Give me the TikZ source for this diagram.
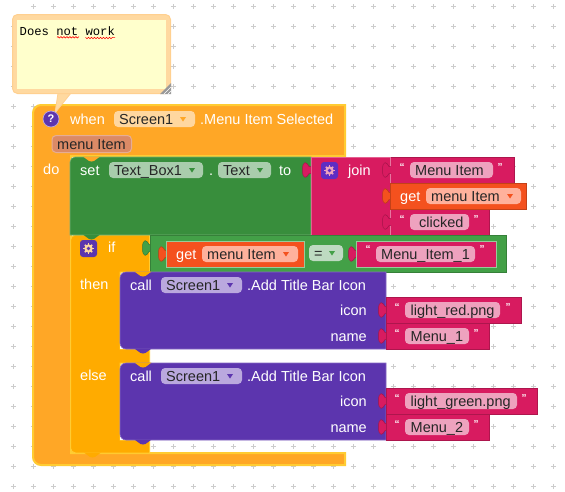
\documentclass[tikz,border=0pt]{standalone}
\usepackage{fontspec}
\setmainfont{Liberation Sans}
\setmonofont{Liberation Mono}
\usetikzlibrary{decorations.pathmorphing}

\definecolor{eventorange}{HTML}{FFA726}
\definecolor{edgeyellow}{HTML}{FFCC33}
\definecolor{ifamber}{HTML}{FFAB00}
\definecolor{setgreen}{HTML}{388E3C}
\definecolor{cmpgreen}{HTML}{43A047}
\definecolor{textpink}{HTML}{D81B60}
\definecolor{getred}{HTML}{F4511E}
\definecolor{callpurple}{HTML}{5C35AE}
\definecolor{iconviolet}{HTML}{5E2DC4}
\definecolor{fldorange}{HTML}{FFD79F}
\definecolor{fldparam}{HTML}{DB8A66}
\definecolor{fldgreen}{HTML}{A9CDAC}
\definecolor{fldpink}{HTML}{EEA2BE}
\definecolor{fldred}{HTML}{FFB19C}
\definecolor{fldpurple}{HTML}{BAA8DE}
\definecolor{notebody}{HTML}{FFFFCC}
\definecolor{noteedge}{HTML}{FFD9A0}
\definecolor{gridgray}{HTML}{CCCCCC}

\tikzset{
  blocklbl/.style={anchor=base west, inner sep=0pt, text=white, font=\fontsize{14.5}{16}\selectfont},
  blockrgt/.style={blocklbl, anchor=base east},
  fieldlbl/.style={anchor=base west, inner sep=0pt, text=black!85, font=\fontsize{14.5}{16}\selectfont},
  quotelbl/.style={inner sep=0pt, text=white, font=\fontsize{10}{10}\bfseries\selectfont},
  fieldbox/.style={rounded corners=4pt},
  gridmark/.style={gridgray, line width=0.8pt},
}

% value socket tab, sticks out to the left of x
\newcommand{\sockettab}[3]{%
  \filldraw[fill=#3, draw=#3!75!black, line width=0.5pt] (#1,#2-3.5) -- (#1-2,#2-3.5) .. controls (#1-4,#2-8) and (#1-8.5,#2-10.5) .. (#1-8.5,#2)
    .. controls (#1-8.5,#2+10.5) and (#1-4,#2+8) .. (#1-2,#2+3.5) -- (#1,#2+3.5);}
% statement notch or bump, hangs below y
\newcommand{\stacknotch}[3]{%
  \fill[#3] (#1-8.5,#2-0.5) .. controls (#1-5,#2+1) and (#1-4,#2+4.5) .. (#1,#2+4.5)
    .. controls (#1+4,#2+4.5) and (#1+5,#2+1) .. (#1+8.5,#2-0.5) -- cycle;}
% small drop-down triangle
\newcommand{\droparrow}[3]{%
  \fill[#3] (#1-3,#2-2) -- (#1+3,#2-2) -- (#1,#2+2.5) -- cycle;}
% mutator gear
\newcommand{\geartile}[4]{%
  \fill[#3, rounded corners=3pt] (#1-8.5,#2-8.5) rectangle (#1+8.5,#2+8.5);
  \foreach \ang in {0,45,...,315}
    \draw[#4, line width=1.6pt] (#1,#2) -- ++(\ang:5.2);
  \fill[#4] (#1,#2) circle (4.2);
  \fill[#3] (#1,#2) circle (1.9);}

\begin{document}
\begin{tikzpicture}[x=1pt,y=-1pt]
  \useasboundingbox (0,0) rectangle (565,491);
  \fill[white] (0,0) rectangle (565,491);

  % workspace grid
  \foreach \gx in {0,...,27}
    \foreach \gy in {0,...,24} {
      \ifnum\numexpr\gx+\gy\relax>0
        \draw[gridmark] (13.3+20*\gx,6.7+20*\gy) +(-2.5,0) -- +(2.5,0) +(0,-2.5) -- +(0,2.5);
      \fi
    }

  % event block, outer shell
  \filldraw[fill=eventorange, draw=edgeyellow, line width=2pt]
    [rounded corners=8pt] (33,465) -- (33,105)
    [sharp corners] -- (345,105) -- (345,156) -- (71,156) -- (71,453) -- (345,453) -- (345,465)
    [rounded corners=8pt] -- cycle;

  % if block
  \filldraw[fill=ifamber, draw=edgeyellow, line width=1pt]
    [sharp corners] (70.5,235) -- (149.5,235) -- (149.5,272) -- (120,272) -- (120,349) -- (149.5,349)
    -- (149.5,363) -- (120,363) -- (120,440) -- (149.5,440) -- (149.5,453)
    [rounded corners=5pt] -- (70.5,453) -- cycle;
  \stacknotch{92.5}{453}{ifamber}

  % set block
  \filldraw[fill=setgreen, draw=setgreen!70!white, line width=0.6pt]
    [rounded corners=5pt] (70,235) -- (70,157) [sharp corners] -- (311,157) -- (311,235) -- cycle;
  \stacknotch{91.5}{157}{eventorange}
  \stacknotch{91.5}{235}{setgreen}

  % join and its inputs
  \sockettab{311}{170}{textpink}
  \filldraw[fill=textpink, draw=textpink!70!white, line width=0.6pt] (311,157) rectangle (390,235);
  \filldraw[fill=textpink, draw=textpink!80!black, line width=0.6pt] (390,157) rectangle (514,183);
  \filldraw[fill=textpink, draw=textpink!80!black, line width=0.6pt] (390,209) rectangle (489,235);
  \draw[textpink!60!white, line width=0.6pt] (390,157) -- (390,183) (390,209) -- (390,235);
  \sockettab{391}{170}{textpink}
  \sockettab{391}{222}{textpink}
  \sockettab{391}{196}{getred}
  \filldraw[fill=getred, draw=getred!80!black, line width=0.6pt] (390,183) rectangle (526,209);

  % compare block
  \sockettab{151}{248}{cmpgreen}
  \filldraw[fill=cmpgreen, draw=cmpgreen!80!black, line width=0.6pt] (150,235) rectangle (506.5,272);
  \sockettab{167}{254}{getred}
  \filldraw[fill=getred, draw=white!45!cmpgreen, line width=0.6pt] (166.5,241) rectangle (304,267);
  \sockettab{357}{254}{textpink}
  \filldraw[fill=textpink, draw=white!45!cmpgreen, line width=0.6pt] (356,241) rectangle (496,267);

  % call blocks
  \foreach \cy in {272,363} {
    \fill[white] (120,\cy+70) rectangle (135,\cy+77);
    \filldraw[fill=callpurple, draw=callpurple!75!white, line width=0.6pt]
      [rounded corners=6pt] (120,\cy+77) -- (120,\cy) [sharp corners] -- (386,\cy) -- (386,\cy+77)
      [rounded corners=6pt] -- cycle;
    \stacknotch{143}{\cy}{ifamber}
    \stacknotch{143}{\cy+77}{callpurple}
    \sockettab{387}{\cy+38}{textpink}
    \sockettab{387}{\cy+64}{textpink}
  }
  \filldraw[fill=textpink, draw=textpink!80!black, line width=0.6pt] (386,297) rectangle (521,323);
  \filldraw[fill=textpink, draw=textpink!80!black, line width=0.6pt] (386,323) rectangle (489,349);
  \filldraw[fill=textpink, draw=textpink!80!black, line width=0.6pt] (386,388) rectangle (537,414);
  \filldraw[fill=textpink, draw=textpink!80!black, line width=0.6pt] (386,414) rectangle (489,440);

  % comment bubble
  \filldraw[fill=noteedge, draw=noteedge!90!orange, line width=0.8pt]
    (58,93) -- (71,93) -- (55,113) -- cycle;
  \filldraw[fill=noteedge, draw=noteedge!90!orange, line width=1pt, rounded corners=5pt]
    (12.5,14.5) rectangle (170.5,93.5);
  \fill[noteedge] (50,90) rectangle (75,93.2);
  \fill[notebody] (17,20) rectangle (166,89);
  \fill[black!40] (160,94) -- (171,83) -- (171,94) -- cycle;
  \draw[white, line width=0.5pt] (164,94) -- (171,87) (168,94) -- (171,91);
  \node[anchor=base west, inner sep=0pt, font=\fontsize{12.2}{14}\ttfamily\selectfont] (noteTxt) at (19.5,35) {Does not work};
  \draw[red, line width=0.6pt, decorate, decoration={snake, segment length=3pt, amplitude=0.7pt}]
    (57,37.3) -- (78,37.3) (85.5,37.3) -- (115,37.3);

  % help icon
  \filldraw[fill=callpurple, draw=fldpurple, line width=0.7pt] (51,119) circle (8);
  \node[inner sep=0pt, text=white, font=\fontsize{11}{11}\bfseries\selectfont] (helpMark) at (51,119) {?};

  % event header
  \node[blocklbl] (whenLbl) at (70,124) {when};
  \fill[fieldbox, fldorange] (114,111) rectangle (195,127);
  \node[fieldlbl] (whenScr) at (119,124) {Screen1};
  \droparrow{183}{119}{eventorange}
  \node[blocklbl] (whenEvt) at (200,124) {.Menu Item Selected};
  \filldraw[fieldbox, fill=fldparam, draw=fldparam!70!white, line width=1pt] (52,135.5) rectangle (131.5,152.5);
  \node[fieldlbl] (paramLbl) at (57,149) {menu Item};
  \node[blocklbl] (doLbl) at (43,174) {do};

  % set row
  \node[blocklbl] (setLbl) at (80,175) {set};
  \fill[fieldbox, fldgreen] (109,162) rectangle (203,178);
  \node[fieldlbl] (setComp) at (114,175) {Text\_Box1};
  \droparrow{192}{170}{setgreen}
  \node[blocklbl] (setDot) at (209,175) {.};
  \fill[fieldbox, fldgreen] (218,162) rectangle (271,178);
  \node[fieldlbl] (setProp) at (223,175) {Text};
  \droparrow{260}{170}{setgreen}
  \node[blocklbl] (setTo) at (279,175) {to};

  % join row
  \geartile{329.5}{170.5}{iconviolet}{fldpink}
  \node[blocklbl] (joinLbl) at (348,175) {join};
  \node[quotelbl] (qa1) at (402,167) {“};
  \fill[fieldbox, fldpink] (410,162) rectangle (493,178);
  \node[fieldlbl] (joinTxtA) at (415,175) {Menu Item};
  \node[quotelbl] (qa2) at (500,167) {”};
  \node[blocklbl] (getLblA) at (400,201) {get};
  \fill[fieldbox, fldred] (426,188) rectangle (521,204);
  \node[fieldlbl] (getVarA) at (431,201) {menu Item};
  \droparrow{510}{196}{getred}
  \node[quotelbl] (qb1) at (402,219) {“};
  \fill[fieldbox, fldpink] (410,214) rectangle (469,230);
  \node[fieldlbl] (joinTxtB) at (419,227) {clicked};
  \node[quotelbl] (qb2) at (476,219) {”};

  % if row
  \geartile{88.5}{248.5}{callpurple}{fldorange}
  \node[blocklbl] (ifLbl) at (108,252) {if};
  \node[blocklbl] (getLblB) at (176,259) {get};
  \fill[fieldbox, fldred] (202,246) rectangle (298,262);
  \node[fieldlbl] (getVarB) at (207,259) {menu Item};
  \droparrow{286}{254}{getred}
  \fill[fieldbox, fldgreen!75!white] (309,245) rectangle (343,261);
  \node[fieldlbl] (cmpOp) at (314,258) {=};
  \droparrow{332}{253}{cmpgreen}
  \node[quotelbl] (qc1) at (368,249) {“};
  \fill[fieldbox, fldpink] (376,246) rectangle (475,262);
  \node[fieldlbl] (cmpTxt) at (381,259) {Menu\_Item\_1};
  \node[quotelbl] (qc2) at (482,249) {”};
  \node[blocklbl] (thenLbl) at (80,289) {then};
  \node[blocklbl] (elseLbl) at (80,380) {else};

  % first call
  \node[blocklbl] (callLblA) at (130,290) {call};
  \fill[fieldbox, fldpurple] (161,277) rectangle (242,293);
  \node[fieldlbl] (callScrA) at (166,290) {Screen1};
  \droparrow{230}{285}{callpurple}
  \node[blocklbl] (callEvtA) at (247,290) {.Add Title Bar Icon};
  \node[blockrgt] (iconLblA) at (367,315) {icon};
  \node[blockrgt] (nameLblA) at (367,341) {name};
  \node[quotelbl] (qd1) at (397,307) {“};
  \fill[fieldbox, fldpink] (405,302) rectangle (500,318);
  \node[fieldlbl] (iconTxtA) at (410.5,315) {light\_red.png};
  \node[quotelbl] (qd2) at (508,307) {”};
  \node[quotelbl] (qe1) at (397,333) {“};
  \fill[fieldbox, fldpink] (405,328) rectangle (469,344);
  \node[fieldlbl] (nameTxtA) at (410.5,341) {Menu\_1};
  \node[quotelbl] (qe2) at (476,333) {”};

  % second call
  \node[blocklbl] (callLblB) at (130,381) {call};
  \fill[fieldbox, fldpurple] (161,368) rectangle (242,384);
  \node[fieldlbl] (callScrB) at (166,381) {Screen1};
  \droparrow{230}{376}{callpurple}
  \node[blocklbl] (callEvtB) at (247,381) {.Add Title Bar Icon};
  \node[blockrgt] (iconLblB) at (367,406) {icon};
  \node[blockrgt] (nameLblB) at (367,432) {name};
  \node[quotelbl] (qf1) at (397,398) {“};
  \fill[fieldbox, fldpink] (405,393) rectangle (517,409);
  \node[fieldlbl] (iconTxtB) at (410.5,406) {light\_green.png};
  \node[quotelbl] (qf2) at (524,398) {”};
  \node[quotelbl] (qg1) at (397,424) {“};
  \fill[fieldbox, fldpink] (405,419) rectangle (469,435);
  \node[fieldlbl] (nameTxtB) at (410.5,432) {Menu\_2};
  \node[quotelbl] (qg2) at (476,424) {”};
\end{tikzpicture}
\end{document}
